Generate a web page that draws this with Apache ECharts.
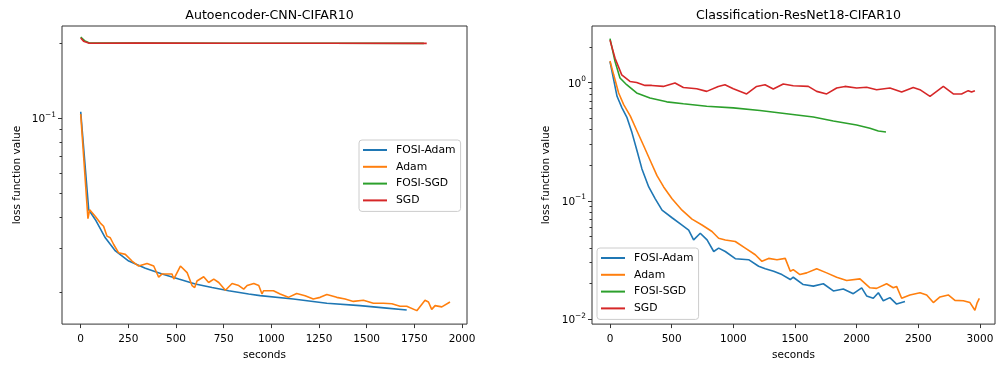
<!DOCTYPE html>
<html>
<head>
<meta charset="utf-8">
<script src="https://cdn.jsdelivr.net/npm/echarts@6/dist/echarts.min.js"></script>
<style>
  html, body { margin: 0; padding: 0; background: #fff; }
  #chart { width: 997px; height: 366px; }
</style>
</head>
<body>
<div id="chart"></div>
<script>
// series names
const seriesNames = ['FOSI-Adam', 'Adam', 'FOSI-SGD', 'SGD'];
const colors = ['#1f77b4', '#ff7f0e', '#2ca02c', '#d62728'];

// Autoencoder-CNN-CIFAR10  [seconds, loss]
const aeFosiAdam = [[0,0.106],[42,0.0428],[77,0.039],[129,0.033],[182,0.0292],[252,0.0266],[339,0.0249],[427,0.0236],[514,0.0225],[601,0.0215],[689,0.0208],[776,0.0202],[881,0.0196],[941,0.0193],[1115,0.0187],[1291,0.018],[1465,0.0176],[1605,0.0172],[1710,0.0169]];
const aeAdam = [[0,0.1037],[38,0.0394],[47,0.0428],[77,0.0402],[103,0.0378],[120,0.0367],[138,0.0335],[155,0.033],[173,0.031],[199,0.0287],[234,0.0283],[269,0.0266],[304,0.0254],[348,0.026],[383,0.0254],[409,0.0229],[427,0.0236],[479,0.0236],[488,0.0225],[523,0.0254],[558,0.0239],[584,0.0212],[598,0.0208],[610,0.0221],[645,0.023],[671,0.0218],[698,0.0225],[724,0.0218],[759,0.0203],[794,0.0216],[829,0.0212],[855,0.0205],[873,0.0212],[908,0.0216],[934,0.0212],[951,0.0196],[959,0.0202],[1011,0.0202],[1046,0.0196],[1089,0.019],[1133,0.0197],[1177,0.0193],[1220,0.0187],[1256,0.019],[1291,0.0195],[1343,0.019],[1387,0.0187],[1430,0.0183],[1483,0.0185],[1535,0.018],[1588,0.018],[1632,0.0179],[1675,0.0175],[1710,0.0175],[1763,0.0168],[1806,0.0185],[1824,0.0182],[1841,0.017],[1859,0.0176],[1894,0.0174],[1937,0.0182]];
const aeFosiSgd = [[0,0.212],[20,0.205],[45,0.2005],[300,0.2003],[800,0.2001],[1300,0.1999],[1800,0.1998]];
const aeSgd = [[0,0.210],[15,0.204],[45,0.2],[300,0.2002],[800,0.2],[1300,0.1999],[1815,0.1998]];

// Classification-ResNet18-CIFAR10  [seconds, loss]
const rnFosiAdam = [[0,1.5],[30,1.05],[57,0.764],[97,0.61],[138,0.504],[178,0.377],[219,0.265],[259,0.186],[314,0.131],[367,0.104],[422,0.0833],[503,0.0719],[584,0.0624],[638,0.0566],[678,0.0467],[732,0.0532],[787,0.0467],[841,0.0373],[881,0.0398],[935,0.0373],[1016,0.0324],[1124,0.0318],[1205,0.028],[1259,0.0267],[1327,0.0254],[1394,0.0238],[1462,0.0216],[1486,0.0226],[1567,0.0196],[1649,0.019],[1730,0.0199],[1811,0.0173],[1892,0.018],[1973,0.0164],[2041,0.0184],[2081,0.0157],[2135,0.015],[2176,0.0167],[2216,0.0143],[2270,0.0152],[2324,0.0134],[2392,0.0141]];
const rnAdam = [[0,1.52],[30,1.16],[70,0.815],[111,0.65],[165,0.52],[219,0.389],[273,0.292],[327,0.218],[381,0.163],[435,0.131],[503,0.104],[584,0.0833],[665,0.07],[746,0.0624],[827,0.055],[881,0.0483],[935,0.0467],[1016,0.0453],[1097,0.0398],[1178,0.035],[1232,0.0308],[1286,0.0326],[1354,0.0318],[1421,0.0326],[1462,0.0254],[1486,0.0262],[1540,0.0238],[1595,0.0246],[1676,0.0267],[1757,0.0246],[1838,0.0226],[1919,0.0212],[2027,0.0219],[2108,0.0184],[2162,0.0182],[2243,0.0199],[2297,0.0184],[2324,0.0189],[2365,0.015],[2432,0.016],[2514,0.0167],[2568,0.016],[2622,0.0138],[2676,0.0154],[2743,0.016],[2797,0.0144],[2865,0.0143],[2919,0.0138],[2959,0.0119],[2978,0.0138],[2995,0.015]];
const rnFosiSgd = [[0,2.35],[41,1.5],[81,1.09],[135,0.957],[216,0.815],[324,0.74],[460,0.686],[595,0.66],[784,0.63],[1000,0.61],[1216,0.58],[1432,0.544],[1649,0.51],[1811,0.472],[2000,0.437],[2108,0.41],[2176,0.389],[2238,0.382]];
const rnSgd = [[0,2.28],[41,1.6],[95,1.16],[162,1.02],[216,1.0],[284,0.944],[338,0.944],[432,0.926],[527,0.99],[595,0.908],[703,0.886],[784,0.841],[878,0.926],[932,0.957],[1000,0.886],[1108,0.8],[1189,0.926],[1257,0.957],[1324,0.88],[1405,0.97],[1486,0.938],[1608,0.926],[1676,0.841],[1757,0.8],[1838,0.898],[1905,0.926],[2000,0.898],[2081,0.91],[2162,0.869],[2270,0.898],[2365,0.831],[2459,0.908],[2513,0.869],[2595,0.764],[2703,0.926],[2784,0.8],[2851,0.8],[2905,0.853],[2932,0.831],[2959,0.853]];

// ticks
const aeXTicks = [0, 250, 500, 750, 1000, 1250, 1500, 1750, 2000];
const rnXTicks = [0, 500, 1000, 1500, 2000, 2500, 3000];
const aeYMajor = [0.1];
const aeYMinor = [0.02, 0.03, 0.04, 0.05, 0.06, 0.07, 0.08, 0.09, 0.2];
const rnYMajor = [0.01, 0.1, 1];
const rnYMinor = [0.02, 0.03, 0.04, 0.05, 0.06, 0.07, 0.08, 0.09, 0.2, 0.3, 0.4, 0.5, 0.6, 0.7, 0.8, 0.9, 2];

const FONT = 'DejaVu Sans';
const AXIS_COLOR = '#333';
// 10^n label, exponent as a raised smaller piece like matplotlib's mathtext
const logLabel = (v) => {
    const e = Math.round(Math.log10(v));
    return '{b|10}{s|' + (e < 0 ? '\u2212' + (-e) : e) + '}';
};
const logRich = {
    b: { fontFamily: FONT, fontSize: 10.5, color: '#000', lineHeight: 14, verticalAlign: 'bottom' },
    s: { fontFamily: FONT, fontSize: 7.4, color: '#000', lineHeight: 8, verticalAlign: 'top' }
};

const chart = echarts.init(document.getElementById('chart'));

function xAxis(gridIndex, min, max, ticks) {
    return {
        type: 'value', gridIndex, min, max, position: 'bottom',
        name: 'seconds', nameLocation: 'middle', nameGap: 24,
        nameTextStyle: { fontFamily: FONT, fontSize: 10.5, color: '#000' },
        axisLine: { show: false, onZero: false },
        splitLine: { show: false },
        axisTick: { show: true, length: 4, customValues: ticks, lineStyle: { color: AXIS_COLOR } },
        axisLabel: { customValues: ticks, margin: 10, formatter: v => String(v), fontFamily: FONT, fontSize: 10.5, color: '#000' }
    };
}
function yAxes(gridIndex, min, max, major, minor, gap) {
    return [{
        type: 'log', logBase: 10, gridIndex, min, max, position: 'left',
        name: 'loss function value', nameLocation: 'middle', nameGap: gap,
        nameTextStyle: { fontFamily: FONT, fontSize: 10.5, color: '#000' },
        axisLine: { show: false, onZero: false },
        splitLine: { show: false },
        axisTick: { show: true, length: 4, customValues: major, lineStyle: { color: AXIS_COLOR } },
        axisLabel: { customValues: major, margin: 6, formatter: logLabel, rich: logRich, fontFamily: FONT, fontSize: 10.5, color: '#000' }
    }, {
        type: 'log', logBase: 10, gridIndex, min, max, position: 'left', offset: 0,
        axisLine: { show: false, onZero: false },
        splitLine: { show: false },
        axisTick: { show: true, inside: false, length: 2.5, customValues: minor, lineStyle: { color: AXIS_COLOR } },
        axisLabel: { show: false }
    }];
}
function legend(left, top) {
    return {
        orient: 'vertical', left, top,
        data: seriesNames,
        icon: 'rect', itemWidth: 24, itemHeight: 2, itemGap: 4.8,
        padding: [4, 5, 5, 4],
        backgroundColor: 'rgba(255,255,255,0.8)',
        borderColor: '#ccc', borderWidth: 1, borderRadius: 3,
        textStyle: { fontFamily: FONT, fontSize: 10.8, color: '#000', lineHeight: 12, padding: [0, 0, 0, 4] }
    };
}
function lines(xi, yi, datas) {
    return datas.map((d, i) => ({
        name: seriesNames[i], type: 'line', xAxisIndex: xi, yAxisIndex: yi,
        data: d, showSymbol: false, symbol: 'none',
        lineStyle: { width: 1.6, color: colors[i] }, itemStyle: { color: colors[i] }
    }));
}

const option = {
    animation: false,
    color: colors,
    title: [
        { text: 'Autoencoder-CNN-CIFAR10', left: 264.5, top: 4, textAlign: 'center',
          textStyle: { fontFamily: FONT, fontSize: 12.6, fontWeight: 'normal', color: '#000' } },
        { text: 'Classification-ResNet18-CIFAR10', left: 793.5, top: 4, textAlign: 'center',
          textStyle: { fontFamily: FONT, fontSize: 12.6, fontWeight: 'normal', color: '#000' } }
    ],
    grid: [
        { left: 62, top: 26, width: 405, height: 301, show: true, borderColor: AXIS_COLOR, borderWidth: 1 },
        { left: 592, top: 26, width: 403, height: 301, show: true, borderColor: AXIS_COLOR, borderWidth: 1 }
    ],
    legend: [legend(359, 140), legend(597, 248)],
    xAxis: [xAxis(0, -98.1, 2026.2, aeXTicks), xAxis(1, -146, 3122, rnXTicks)],
    yAxis: [].concat(yAxes(0, 0.01483, 0.2347, aeYMajor, aeYMinor, 39), yAxes(1, 0.00908, 3.0, rnYMajor, rnYMinor, 40)),
    series: [].concat(
        lines(0, 0, [aeFosiAdam, aeAdam, aeFosiSgd, aeSgd]),
        lines(1, 2, [rnFosiAdam, rnAdam, rnFosiSgd, rnSgd])
    )
};
chart.setOption(option);
</script>
</body>
</html>
